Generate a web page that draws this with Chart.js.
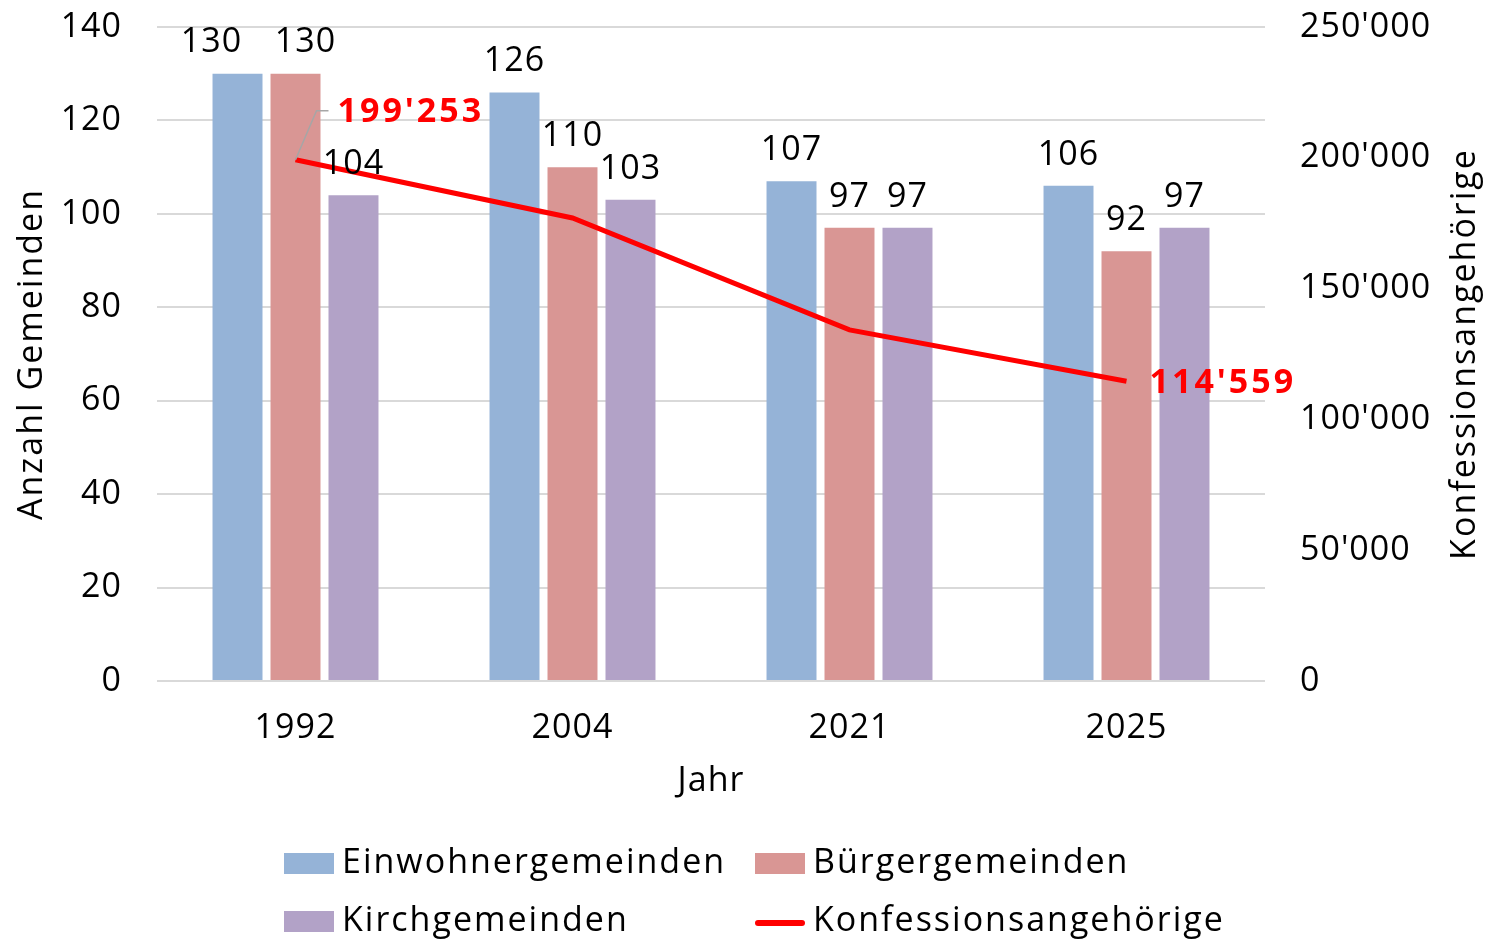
<!DOCTYPE html>
<html lang="de">
<head>
<meta charset="UTF-8">
<title>Gemeinden und Konfessionsangehörige</title>
<script src="https://cdn.jsdelivr.net/npm/chart.js"></script>
<style>
  html, body { margin: 0; padding: 0; background: #fff; }
  #wrap { width: 1490px; height: 942px; }
</style>
</head>
<body>
<div id="wrap"><canvas id="chart" width="1490" height="942"></canvas></div>

<script>
  // Daten
  const jahre = ["1992", "2004", "2021", "2025"];
  const einwohnergemeinden = [130, 126, 107, 106];
  const buergergemeinden = [130, 110, 97, 92];
  const kirchgemeinden = [104, 103, 97, 97];
  const konfessionsangehoerige = [199253, 177000, 134200, 114559];

  const linksMax = 140, linksStep = 20;
  const rechtsMax = 250000, rechtsStep = 50000;

  const FONT = '"Open Sans", "Noto Sans", sans-serif';
  const SIZE = 34;

  function tausender(n) {
    return String(n).replace(/\B(?=(\d{3})+(?!\d))/g, "'");
  }

  // Beschriftungen der Säulen (1992 etwas verschoben wie im Original)
  const saeulenVersatz = { "0-0": -26, "1-0": 10 };

  function senkrechterText(ctx, text, x, y) {
    ctx.save();
    ctx.font = SIZE + "px " + FONT;
    ctx.fillStyle = "#000";
    ctx.textAlign = "center";
    ctx.textBaseline = "middle";
    ctx.letterSpacing = "2px";
    ctx.translate(x, y);
    ctx.rotate(-Math.PI / 2);
    ctx.fillText(text, 0, 0);
    ctx.restore();
  }

  const beschriftungPlugin = {
    id: "beschriftung",
    beforeDraw(chart) {
      chart.ctx.letterSpacing = "1px";
    },
    afterDatasetsDraw(chart) {
      const ctx = chart.ctx;
      ctx.save();
      ctx.font = SIZE + "px " + FONT;
      ctx.fillStyle = "#000";
      ctx.textAlign = "center";
      ctx.textBaseline = "middle";
      ctx.letterSpacing = "1px";
      chart.data.datasets.forEach((ds, di) => {
        if (ds.type === "line") return;
        chart.getDatasetMeta(di).data.forEach((bar, i) => {
          const dx = saeulenVersatz[di + "-" + i] || 0;
          ctx.fillText(ds.data[i], bar.x + dx, bar.y - 31);
        });
      });

      // Linie: erster und letzter Wert
      const li = chart.data.datasets.findIndex(d => d.type === "line");
      const pts = chart.getDatasetMeta(li).data;
      const werte = chart.data.datasets[li].data;
      const p0 = pts[0], pN = pts[pts.length - 1];

      ctx.strokeStyle = "#a6a6a6";
      ctx.lineWidth = 1.5;
      ctx.beginPath();
      ctx.moveTo(p0.x, p0.y);
      ctx.lineTo(p0.x + 21, p0.y - 49);
      ctx.lineTo(p0.x + 33, p0.y - 49);
      ctx.stroke();

      ctx.font = "bold " + SIZE + "px " + FONT;
      ctx.fillStyle = "#ff0000";
      ctx.textAlign = "left";
      ctx.letterSpacing = "3px";
      ctx.fillText(tausender(werte[0]), p0.x + 42, p0.y - 47);
      ctx.fillText(tausender(werte[werte.length - 1]), pN.x + 23, pN.y + 2);
      ctx.restore();
    },
    afterDraw(chart) {
      const ctx = chart.ctx;
      const area = chart.chartArea;
      const mitte = (area.top + area.bottom) / 2;
      // Achsentitel, von unten nach oben
      senkrechterText(ctx, "Anzahl Gemeinden", 32, mitte);
      senkrechterText(ctx, "Konfessionsangehörige", 1465, mitte);

      // Legende in zwei Spalten
      ctx.save();
      ctx.font = SIZE + "px " + FONT;
      ctx.textBaseline = "middle";
      ctx.textAlign = "left";
      ctx.letterSpacing = "2px";
      const spalten = [284, 755];
      const zeilen = [863, 921];
      chart.data.datasets.forEach((ds, i) => {
        const x = spalten[i % 2], y = zeilen[Math.floor(i / 2)];
        if (ds.type === "line") {
          ctx.strokeStyle = ds.borderColor;
          ctx.lineWidth = 6;
          ctx.lineCap = "round";
          ctx.beginPath();
          ctx.moveTo(x + 3, y + 2);
          ctx.lineTo(x + 47, y + 2);
          ctx.stroke();
        } else {
          ctx.fillStyle = ds.backgroundColor;
          ctx.fillRect(x, y - 10, 50, 21);
        }
        ctx.fillStyle = "#000";
        ctx.fillText(ds.label, x + 58, y);
      });
      ctx.restore();
    }
  };

  const ctx = document.getElementById("chart").getContext("2d");

  const chart = new Chart(ctx, {
    type: "bar",
    data: {
      labels: jahre,
      datasets: [
        {
          label: "Einwohnergemeinden",
          data: einwohnergemeinden,
          backgroundColor: "#95b3d7",
          yAxisID: "y",
          order: 1,
        },
        {
          label: "Bürgergemeinden",
          data: buergergemeinden,
          backgroundColor: "#d99694",
          yAxisID: "y",
          order: 1,
        },
        {
          label: "Kirchgemeinden",
          data: kirchgemeinden,
          backgroundColor: "#b2a2c7",
          yAxisID: "y",
          order: 1,
        },
        {
          type: "line",
          label: "Konfessionsangehörige",
          data: konfessionsangehoerige,
          borderColor: "#ff0000",
          backgroundColor: "#ff0000",
          borderWidth: 5,
          pointRadius: 0,
          tension: 0,
          yAxisID: "y1",
          order: 0,
        },
      ],
    },
    options: {
      responsive: false,
      animation: false,
      devicePixelRatio: 1,
      categoryPercentage: 0.628,
      barPercentage: 0.862,
      layout: { padding: { top: 27, bottom: 140, left: 0, right: 0 } },
      plugins: {
        legend: { display: false },
        tooltip: { enabled: false },
      },
      scales: {
        x: {
          grid: { display: false },
          border: { display: false },
          ticks: { color: "#000", font: { family: FONT, size: SIZE }, padding: 19 },
          title: {
            display: true,
            text: "Jahr",
            color: "#000",
            font: { family: FONT, size: SIZE },
            padding: { top: 10, bottom: 0 },
          },
          afterFit(scale) { scale.height = 121; },
        },
        y: {
          position: "left",
          min: 0,
          max: linksMax,
          ticks: { stepSize: linksStep, color: "#000", font: { family: FONT, size: SIZE }, padding: 35 },
          grid: { color: "#d9d9d9", lineWidth: 2, drawTicks: false },
          border: { display: false },
          afterFit(scale) {
            scale.width = 157;
            scale.paddingTop = 0;
            scale.paddingBottom = 0;
          },
        },
        y1: {
          position: "right",
          min: 0,
          max: rechtsMax,
          ticks: {
            stepSize: rechtsStep,
            color: "#000",
            font: { family: FONT, size: SIZE },
            padding: 35,
            callback: v => tausender(v),
          },
          grid: { display: false, drawTicks: false },
          border: { display: false },
          afterFit(scale) {
            scale.width = 225;
            scale.paddingTop = 0;
            scale.paddingBottom = 0;
          },
        },
      },
    },
    plugins: [beschriftungPlugin],
  });
</script>
</body>
</html>
